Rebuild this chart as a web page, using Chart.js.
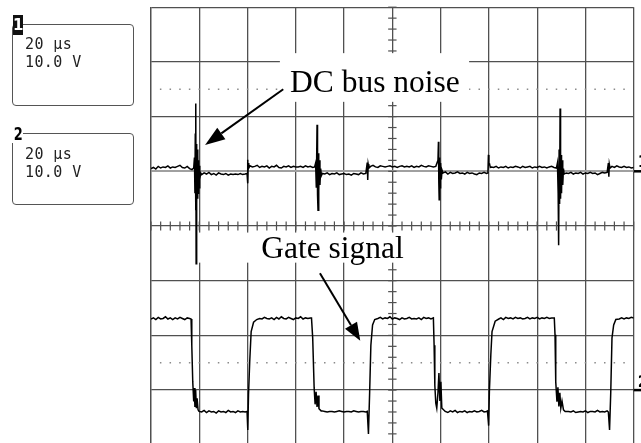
<!DOCTYPE html>
<html>
<head>
<meta charset="utf-8">
<script src="https://cdn.jsdelivr.net/npm/chart.js@4.4.1/dist/chart.umd.min.js"></script>
<style>
  html, body { margin:0; padding:0; background:#fff; }
  body { width:641px; height:443px; overflow:hidden; position:relative; }
  #c { position:absolute; left:0; top:0; }
  .panel { position:absolute; left:12px; width:122px; border:1.3px solid #555; border-radius:4px; box-sizing:border-box; z-index:2; }
  .ptext { position:absolute; left:25px; font-family:'DejaVu Sans Mono', monospace; font-size:15px; line-height:17.6px; color:#222; letter-spacing:0.4px; white-space:pre; z-index:3; }
  .lab1 { position:absolute; left:13px; top:15px; width:10px; height:20px; background:#111; color:#fff; font:bold 15px 'DejaVu Sans', sans-serif; line-height:20px; text-align:center; z-index:4; }
  .lab2 { position:absolute; left:12px; top:124px; width:11px; height:19px; background:#fff; color:#000; font:bold 18px 'DejaVu Sans', sans-serif; line-height:19px; text-align:center; z-index:4; }
  .lab2 span { display:inline-block; transform:scaleX(0.72); }
</style>
</head>
<body>
<canvas id="c" width="641" height="450"></canvas>
<div class="panel" style="top:24px;height:82px"></div>
<div class="lab1">1</div>
<div class="ptext" style="top:36px">20 µs
10.0 V</div>
<div class="panel" style="top:133px;height:72px"></div>
<div class="lab2"><span>2</span></div>
<div class="ptext" style="top:146px">20 µs
10.0 V</div>
<script>
// ---- channel 1 (DC bus), time in µs, volts relative to channel-1 ground ----
const ch1Time = [0,1,2,3,4,5,6,7,8,9,10,11,12,13,14,15,16,17,17.7,
  18.0,18.2,18.35,18.5,18.6,18.7,18.85,19.0,19.15,19.3,19.45,19.6,19.75,19.9,20.1,20.3,20.6,
  21,22,23,24,25,26,27,28,29,30,31,32,33,34,35,36,37,38,39,39.8,
  40.0,40.15,40.3,40.5,
  41,42,43,44,45,46,47,48,49,50,51,52,53,54,55,56,57,58,59,60,61,62,63,64,65,66,67,67.8,
  68.2,68.5,68.8,69.0,69.2,69.4,69.6,69.8,70.0,70.3,70.6,
  71,72,73,74,75,76,77,78,79,80,81,82,83,84,85,86,87,88,89,
  89.6,89.8,90.0,90.3,
  91,92,93,94,95,96,97,98,99,100,101,102,103,104,105,106,107,108,109,110,111,112,113,114,115,116,117,118,
  118.9,119.1,119.25,119.4,119.6,119.8,120.0,120.3,120.6,
  121,122,123,124,125,126,127,128,129,130,131,132,133,134,135,136,137,138,139,139.6,
  139.8,140.0,140.3,140.6,
  141,142,143,144,145,146,147,148,149,150,151,152,153,154,155,156,157,158,159,160,161,162,163,164,165,166,167,168,
  168.4,168.7,168.9,169.1,169.3,169.5,169.7,169.9,170.1,170.3,170.6,170.9,171.2,
  172,173,174,175,176,177,178,179,180,181,182,183,184,185,186,187,188,189,
  189.5,189.7,189.9,190.2,
  191,192,193,194,195,196,197,198,199,200];
const ch1Volts = [0.5,0.7,0.4,0.9,0.6,0.8,0.7,1.0,0.6,0.8,0.7,0.9,1.1,0.7,0.6,0.9,0.5,0.3,0.6,
  2.5,-4,6.9,-7.1,12.4,-16.9,5,-6,4,-5,3,-4,2,-3,1,-1.5,-0.3,
  -0.6,-0.3,-0.5,-0.2,-0.6,-0.4,-0.7,-0.3,-0.5,-0.6,-0.4,-0.7,-0.5,-0.6,-0.5,-0.6,-0.4,-0.6,-0.5,-0.4,
  2.1,-2.2,1.5,0.6,
  1.0,0.8,0.9,1.1,0.7,0.9,0.8,1.0,0.6,0.9,0.8,1.1,0.7,0.6,0.9,0.8,1.0,0.7,0.9,0.8,0.8,0.9,0.7,1.0,0.8,0.9,0.7,0.8,
  1.5,-3,8.5,-4.3,-7.1,3.3,-3.5,2.0,-2.5,0.5,-0.8,
  -0.4,-0.5,-0.3,-0.6,-0.4,-0.5,-0.3,-0.6,-0.5,-0.4,-0.6,-0.5,-0.7,-0.4,-0.5,-0.6,-0.3,-0.5,-0.4,
  1.6,-1.6,1.3,0.6,
  0.9,1.1,0.8,0.7,1.0,0.9,0.8,0.9,1.0,0.8,0.9,0.7,0.9,1.0,0.8,0.9,0.8,1.0,0.7,0.9,0.8,1.1,0.9,0.8,1.0,0.9,0.8,0.9,
  2,5.4,-2,-5.2,2.5,-3,1.5,-1.5,0.2,
  -0.3,-0.1,-0.5,-0.2,-0.4,-0.3,-0.1,-0.4,-0.3,-0.5,-0.2,-0.4,-0.3,-0.5,-0.6,-0.3,-0.4,-0.2,-0.4,-0.3,
  3.0,1.2,1.3,0.7,
  0.8,0.7,0.9,0.6,0.8,0.7,0.9,0.6,0.8,0.7,0.9,0.8,0.6,0.9,0.7,0.8,0.9,0.6,0.8,0.7,0.9,0.7,0.8,0.6,0.8,0.9,0.7,0.6,
  1.5,-4,-13.5,4,-6,11.5,-5,3,-4,2,-2.5,0.5,-0.5,
  -0.3,-0.4,-0.2,-0.5,-0.3,-0.4,-0.2,-0.5,-0.3,-0.4,-0.2,-0.4,-0.3,-0.6,-0.4,-0.2,-0.3,-0.2,
  1.5,-1.0,1.3,0.6,
  0.9,0.7,1.0,0.8,0.7,0.9,0.7,0.8,0.6,0.7];

// ---- channel 2 (gate signal), time in µs, volts relative to channel-2 ground ----
const ch2Time = [0,1,2,3,4,5,6,7,8,9,10,11,12,13,14,15,16,16.6,
  16.9,17.3,17.7,17.95,18.2,18.5,18.8,19.1,19.5,19.9,
  21,22,23,24,25,26,27,28,29,30,31,32,33,34,35,36,37,38,39,39.8,
  40.1,40.4,40.9,41.5,42.5,43.8,
  45,46,47,48,49,50,51,52,53,54,55,56,57,58,59,60,61,62,63,64,65,66,66.5,
  67.0,67.6,68.0,68.4,68.8,69.2,69.6,70.5,
  71,72,73,74,75,76,77,78,79,80,81,82,83,84,85,86,87,88,89,89.6,
  90.1,90.6,91.1,91.8,92.7,
  94,95,96,97,98,99,100,101,102,103,104,105,106,107,108,109,110,111,112,113,114,115,116,117,
  117.3,117.6,118.0,118.4,118.9,119.3,119.7,120.1,120.5,121.0,121.9,
  123,124,125,126,127,128,129,130,131,132,133,134,135,136,137,138,139,139.4,
  139.9,140.2,140.8,141.3,142.6,144.1,
  145,146,147,148,149,150,151,152,153,154,155,156,157,158,159,160,161,162,163,164,165,166,167.1,
  167.4,167.7,168.2,168.6,169.0,169.4,169.8,170.3,170.9,171.6,
  173,174,175,176,177,178,179,180,181,182,183,184,185,186,187,188,189,189.5,
  190.0,190.5,191.0,191.7,192.6,
  194,195,196,197,198,199,200];
const ch2Volts = [13.0,13.2,12.9,13.3,13.0,13.1,13.4,13.0,13.2,12.9,13.2,13.0,13.3,13.1,12.9,13.2,13.1,13.0,
  8.2,1.5,-2.1,0.4,-3.1,0.0,-3.3,-1.5,-3.6,-3.9,
  -4.0,-3.7,-4.1,-3.8,-4.0,-3.9,-4.2,-3.8,-4.0,-3.9,-4.1,-3.7,-4.0,-3.9,-4.1,-3.8,-4.0,-3.9,-4.0,-3.9,
  -7.3,-0.9,5.2,10.7,12.4,12.9,
  13.1,13.0,13.3,13.1,13.0,13.2,12.9,13.3,13.0,13.4,13.1,13.0,13.3,13.1,12.9,13.2,13.1,13.4,13.0,13.2,13.1,13.2,13.2,
  9.5,0.4,-2.6,-0.3,-3.1,-1.0,-3.4,-3.8,
  -3.8,-3.9,-4.0,-3.9,-3.9,-4.0,-3.9,-3.8,-3.9,-4.0,-3.9,-3.9,-4.0,-3.8,-3.9,-4.0,-3.9,-3.9,-4.0,-3.9,
  -8.0,-0.3,8.2,11.9,12.9,
  13.1,13.3,13.0,13.2,13.1,13.4,13.0,13.2,13.1,12.9,13.2,13.0,13.1,13.3,13.0,13.1,13.0,13.2,12.9,13.3,13.1,13.2,13.0,13.2,
  8.2,0.9,-2.4,-3.3,-0.5,3.1,-2.0,1.5,-3.3,-3.5,-3.9,
  -4.1,-3.8,-4.0,-3.7,-4.1,-3.9,-4.0,-3.8,-4.1,-3.9,-4.0,-3.8,-4.0,-3.9,-3.7,-4.0,-3.9,-3.8,
  -6.5,-0.3,6.4,10.7,12.6,13.0,
  13.2,12.9,13.3,13.1,13.2,13.0,13.3,13.1,13.2,13.0,13.1,13.3,13.0,13.2,13.1,13.3,13.0,13.2,13.1,13.3,13.1,13.2,13.2,
  10.1,1.5,-2.1,0.5,-3.0,-0.5,-3.3,-2.0,-3.6,-3.9,
  -3.9,-4.0,-3.8,-4.1,-4.0,-3.9,-4.0,-3.8,-4.1,-3.9,-3.9,-4.0,-3.7,-4.0,-3.9,-4.0,-3.8,-4.0,
  -7.3,-0.3,9.5,11.9,12.9,
  13.0,13.2,13.0,13.2,13.1,13.3,13.2];

// ---- screen scales: 20 µs/div, 10 V/div, 10 x 8 divisions ----
const timeRange = [0, 200];
const ch1Range = [-50, 30];   // ch1 ground one division above centre
const ch2Range = [-10, 70];   // ch2 ground three divisions below centre

// ---- annotations (anchored in data units) ----
const labelTexts = ['DC bus noise', 'Gate signal'];

const gridColor = '#505050';

function pts(ts, vs){ return ts.map((t,i)=>({x:t, y:vs[i]})); }

function seg(ctx, x1, y1, x2, y2){ ctx.beginPath(); ctx.moveTo(x1,y1); ctx.lineTo(x2,y2); ctx.stroke(); }
function arrow(ctx, x1, y1, x2, y2, headLen, headHalf){
  const ang = Math.atan2(y2-y1, x2-x1);
  const bx = x2 - headLen*Math.cos(ang), by = y2 - headLen*Math.sin(ang);
  ctx.lineWidth = 2; ctx.strokeStyle = '#000'; ctx.fillStyle = '#000';
  seg(ctx, x1, y1, bx, by);
  ctx.beginPath();
  ctx.moveTo(x2, y2);
  ctx.lineTo(bx + headHalf*Math.sin(ang), by - headHalf*Math.cos(ang));
  ctx.lineTo(bx - headHalf*Math.sin(ang), by + headHalf*Math.cos(ang));
  ctx.closePath(); ctx.fill();
}

const overlay = {
  id: 'overlay',
  beforeDatasetsDraw(chart){
    const {ctx, scales:{x, y1, y2}} = chart;
    ctx.save();
    // centre graticule ticks
    ctx.strokeStyle = gridColor; ctx.lineWidth = 1.2;
    const cx = x.getPixelForValue(100), cy = y1.getPixelForValue(-10);
    for (let v = ch1Range[0]; v <= ch1Range[1]; v += 2) {
      const py = y1.getPixelForValue(v); seg(ctx, cx-4.2, py, cx+4.2, py);
    }
    for (let t = timeRange[0]; t <= timeRange[1]; t += 4) {
      const px = x.getPixelForValue(t); seg(ctx, px, cy-4.6, px, cy+4.6);
    }
    // dotted level markers
    ctx.fillStyle = '#8a8a8a';
    const d1 = y1.getPixelForValue(15), d2 = y2.getPixelForValue(5);
    for (let t = 4; t < 200; t += 4) {
      const px = x.getPixelForValue(t);
      ctx.fillRect(px-0.75, d1-0.75, 1.5, 1.5);
      ctx.fillRect(px-0.75, d2-0.75, 1.5, 1.5);
    }
    // white label boxes
    ctx.fillStyle = '#fff';
    const bx1 = x.getPixelForValue(53.4), bx2 = x.getPixelForValue(131.8);
    const by1 = y1.getPixelForValue(21.6), by2 = y1.getPixelForValue(12.7);
    ctx.fillRect(bx1, by1, bx2-bx1, by2-by1);
    const gx1 = x.getPixelForValue(16.2), gx2 = x.getPixelForValue(108.6);
    const gy1 = y2.getPixelForValue(28.8), gy2 = y2.getPixelForValue(23.3);
    ctx.fillRect(gx1, gy1, gx2-gx1, gy2-gy1);
    // texts
    ctx.fillStyle = '#000';
    ctx.font = "31.5px 'Liberation Serif', 'Times New Roman', serif";
    ctx.textAlign = 'center'; ctx.textBaseline = 'alphabetic';
    ctx.fillText(labelTexts[0], x.getPixelForValue(92.8), y1.getPixelForValue(14.55));
    ctx.fillText(labelTexts[1], x.getPixelForValue(75.2), y2.getPixelForValue(24.2));
    // arrows
    arrow(ctx, x.getPixelForValue(54.8), y1.getPixelForValue(15.0), x.getPixelForValue(22.4), y1.getPixelForValue(4.8), 20, 7);
    arrow(ctx, x.getPixelForValue(70.0), y2.getPixelForValue(21.35), x.getPixelForValue(86.7), y2.getPixelForValue(9.03), 18, 7);
    ctx.restore();
  },
  afterDraw(chart){
    const {ctx, chartArea:a, scales:{y1, y2}} = chart;
    ctx.save();
    ctx.strokeStyle = '#000'; ctx.lineWidth = 2.5;
    const g1 = y1.getPixelForValue(0), g2 = y2.getPixelForValue(0);
    seg(ctx, a.right, g1, chart.width, g1);
    seg(ctx, a.right, g2, chart.width, g2);
    ctx.fillStyle = '#000';
    ctx.font = "bold 15px 'DejaVu Sans', sans-serif";
    ctx.textAlign = 'left'; ctx.textBaseline = 'alphabetic';
    ctx.fillText('1', a.right + 4, g1 - 4);
    ctx.fillText('2', a.right + 4, g2 - 3);
    ctx.restore();
  }
};

new Chart(document.getElementById('c'), {
  type: 'line',
  data: {
    datasets: [
      { label: 'Ch1', data: pts(ch1Time, ch1Volts), yAxisID: 'y1', borderColor: '#000', borderWidth: 1.5, pointRadius: 0, tension: 0, fill: false },
      { label: 'Ch2', data: pts(ch2Time, ch2Volts), yAxisID: 'y2', borderColor: '#000', borderWidth: 1.5, pointRadius: 0, tension: 0, fill: false }
    ]
  },
  options: {
    responsive: false,
    animation: false,
    devicePixelRatio: 1,
    layout: { padding: { left: 151, right: 7.3, top: 7.2, bottom: 5.2 } },
    plugins: { legend: { display: false }, tooltip: { enabled: false } },
    scales: {
      x: {
        type: 'linear', min: timeRange[0], max: timeRange[1],
        ticks: { display: false, stepSize: 20 },
        grid: { color: gridColor, lineWidth: 1.3, drawTicks: false },
        border: { display: true, color: gridColor, width: 1.3 }
      },
      y1: {
        type: 'linear', position: 'left', min: ch1Range[0], max: ch1Range[1],
        ticks: { display: false, stepSize: 10 },
        grid: {
          color: c => (c.tick && c.tick.value === 0) ? '#a0a0a0' : gridColor,
          lineWidth: c => (c.tick && c.tick.value === 0) ? 2 : 1.3,
          drawTicks: false
        },
        border: { display: true, color: gridColor, width: 1.3 }
      },
      y2: {
        type: 'linear', position: 'right', min: ch2Range[0], max: ch2Range[1], display: false
      }
    }
  },
  plugins: [overlay]
});
</script>
</body>
</html>
